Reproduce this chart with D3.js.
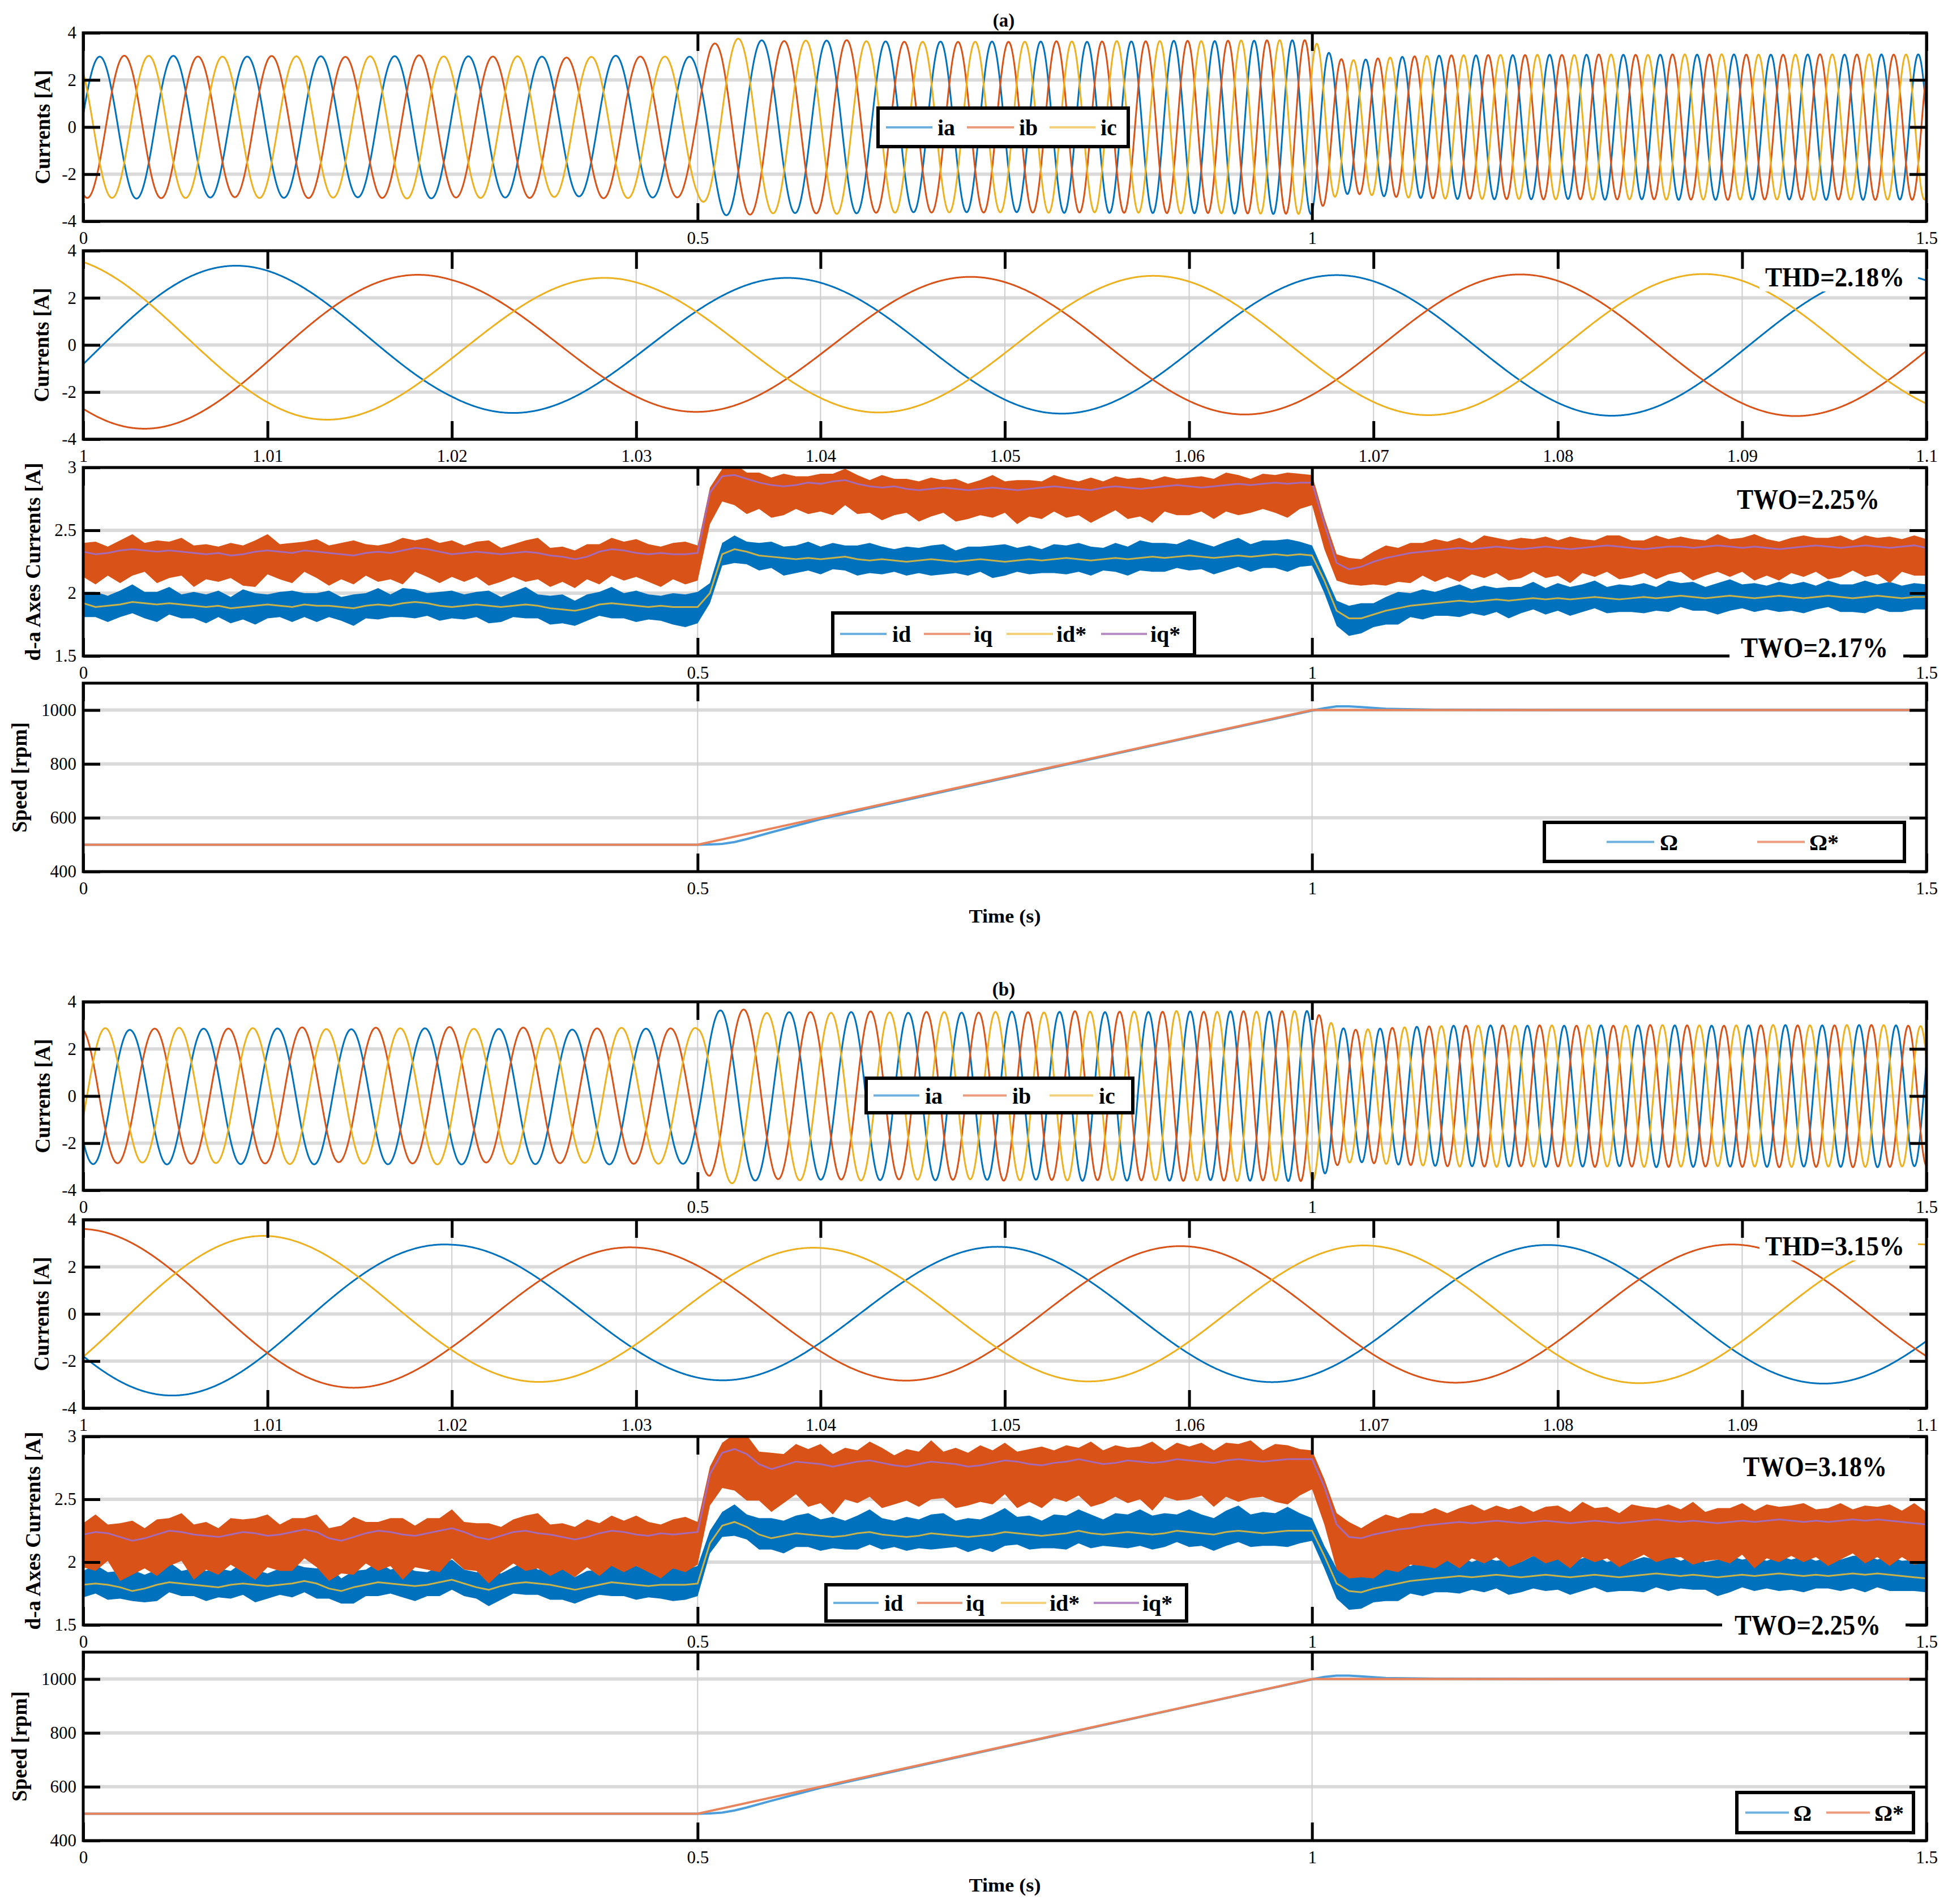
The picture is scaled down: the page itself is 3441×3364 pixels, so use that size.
<!DOCTYPE html>
<html>
<head>
<meta charset="utf-8">
<script src="https://cdn.jsdelivr.net/npm/d3@7"></script>
<style>
  body { margin: 0; background: #fff; }
  text { font-family: "Liberation Serif", "Times New Roman", serif; }
</style>
</head>
<body>
<svg id="chart"></svg>
<script>
// ---- ticks and labels
const timeTicks = [0, 0.5, 1, 1.5];
const zoomTicks = [1, 1.01, 1.02, 1.03, 1.04, 1.05, 1.06, 1.07, 1.08, 1.09, 1.1];
const currentTicks = [-4, -2, 0, 2, 4];
const dqTicks = [1.5, 2, 2.5, 3];
const speedTicks = [400, 600, 800, 1000];
const abcNames = ['ia', 'ib', 'ic'];
const dqNames = ['id', 'iq', 'id*', 'iq*'];
const speedNames = ['Ω', 'Ω*'];
const caseTitles = ['(a)', '(b)'];
const thdLabels = ['THD=2.18%', 'THD=3.15%'];
const twoIqLabels = ['TWO=2.25%', 'TWO=3.18%'];
const twoIdLabels = ['TWO=2.17%', 'TWO=2.25%'];

// ---- machine / phase readings
const polePairs = 2;
const phaseAt0 = [-1.4, 2.3];   // angle of ia at t = 0 s (full-range panel)
const phaseAt1 = [4.49, 2.09];  // angle of ia at t = 1 s (zoom panel)

// ---- speed [rpm]
const speedRefTime = [0, 0.5, 1, 1.5];
const speedRef = [500, 500, 1000, 1000];
const speedTime = [0, 0.5, 0.51, 0.52, 0.53, 0.54, 0.56, 0.6, 0.7, 0.9, 1.0, 1.01, 1.02, 1.03, 1.04, 1.06, 1.1, 1.2, 1.5];
const speedMeasA = [500, 500, 501, 503, 510, 521, 546, 595, 697, 898, 998, 1007, 1014, 1014, 1011, 1005, 1001, 1000, 1000];
const speedMeasB = [500, 500, 501, 504, 512, 523, 548, 596, 698, 899, 999, 1008, 1013, 1013, 1010, 1004, 1001, 1000, 1000];

// ---- d-q currents [A], one value every 10 ms from 0 to 1.5 s
const dqTime = d3.range(151).map(i => i / 100);

const iqRefA = [
  2.33,2.31,2.32,2.34,2.35,2.34,2.33,2.34,2.33,2.32,
  2.31,2.32,2.30,2.31,2.33,2.34,2.33,2.32,2.34,2.33,
  2.32,2.31,2.30,2.32,2.33,2.32,2.34,2.36,2.35,2.33,
  2.31,2.32,2.33,2.32,2.31,2.32,2.33,2.32,2.30,2.29,
  2.27,2.29,2.33,2.35,2.34,2.32,2.31,2.32,2.31,2.31,
  2.32,2.80,2.93,2.94,2.91,2.88,2.86,2.85,2.86,2.88,
  2.87,2.89,2.90,2.87,2.85,2.84,2.85,2.83,2.82,2.83,
  2.84,2.83,2.82,2.83,2.84,2.83,2.82,2.83,2.84,2.85,
  2.84,2.83,2.82,2.84,2.85,2.84,2.83,2.84,2.85,2.86,
  2.85,2.84,2.85,2.86,2.87,2.86,2.87,2.88,2.87,2.88,
  2.88,2.55,2.24,2.19,2.21,2.25,2.28,2.30,2.32,2.33,
  2.34,2.35,2.36,2.35,2.36,2.37,2.36,2.35,2.36,2.37,
  2.36,2.35,2.36,2.37,2.38,2.37,2.36,2.35,2.36,2.37,
  2.37,2.36,2.37,2.38,2.37,2.36,2.37,2.36,2.35,2.36,
  2.37,2.38,2.37,2.36,2.37,2.38,2.37,2.36,2.37,2.38,
  2.36];
const idRefA = [
  1.92,1.89,1.90,1.91,1.93,1.92,1.91,1.92,1.91,1.90,
  1.89,1.90,1.88,1.89,1.90,1.91,1.90,1.89,1.91,1.90,
  1.90,1.89,1.88,1.90,1.91,1.90,1.92,1.93,1.92,1.90,
  1.89,1.90,1.91,1.90,1.89,1.90,1.91,1.90,1.88,1.87,
  1.86,1.88,1.91,1.92,1.91,1.90,1.89,1.90,1.89,1.89,
  1.89,2.00,2.31,2.35,2.33,2.30,2.29,2.28,2.27,2.28,
  2.27,2.28,2.29,2.27,2.26,2.27,2.26,2.25,2.26,2.27,
  2.26,2.25,2.26,2.27,2.26,2.25,2.26,2.27,2.26,2.27,
  2.28,2.27,2.26,2.27,2.28,2.27,2.28,2.29,2.28,2.29,
  2.30,2.29,2.28,2.29,2.30,2.29,2.30,2.31,2.30,2.31,
  2.30,2.10,1.86,1.80,1.80,1.83,1.86,1.88,1.90,1.91,
  1.92,1.93,1.94,1.93,1.94,1.95,1.94,1.95,1.96,1.95,
  1.96,1.95,1.96,1.97,1.96,1.95,1.96,1.97,1.96,1.97,
  1.98,1.97,1.96,1.97,1.98,1.97,1.96,1.97,1.98,1.97,
  1.96,1.97,1.98,1.97,1.96,1.97,1.98,1.97,1.96,1.97,
  1.97];
// spread of the measured signal above / below its reference
const iqUpA = [
  .07,.10,.05,.08,.12,.06,.09,.07,.11,.06, .08,.05,.10,.07,.09,.13,.06,.08,.07,.10,
  .06,.09,.12,.07,.05,.08,.10,.06,.09,.07, .11,.06,.08,.10,.05,.07,.09,.12,.06,.08,
  .07,.10,.06,.09,.07,.11,.08,.05,.09,.10, .06,.04,.06,.09,.05,.08,.06,.10,.07,.05,
  .08,.06,.09,.07,.05,.10,.06,.08,.07,.09, .06,.08,.05,.07,.10,.06,.08,.07,.05,.09,
  .07,.06,.10,.05,.08,.07,.09,.06,.08,.05, .07,.09,.06,.10,.07,.05,.08,.06,.09,.07,
  .06,.05,.07,.09,.06,.08,.10,.06,.08,.07, .09,.06,.08,.05,.10,.07,.06,.09,.07,.08,
  .06,.10,.07,.05,.08,.09,.06,.07,.10,.06, .08,.07,.05,.09,.06,.08,.10,.07,.06,.08,
  .09,.06,.07,.10,.05,.08,.07,.09,.06,.08, .07];
const iqDnA = [
  .20,.24,.18,.26,.21,.17,.25,.22,.19,.27, .20,.23,.18,.25,.28,.19,.22,.24,.17,.21,
  .26,.20,.23,.18,.24,.21,.27,.19,.22,.25, .18,.23,.20,.26,.22,.19,.24,.21,.25,.20,
  .23,.18,.26,.21,.24,.19,.22,.27,.20,.24, .22,.25,.20,.24,.28,.21,.26,.23,.19,.25,
  .22,.27,.20,.24,.21,.26,.23,.19,.25,.22, .20,.26,.23,.21,.24,.19,.27,.22,.25,.20,
  .24,.21,.26,.23,.19,.25,.22,.28,.20,.24, .23,.19,.26,.21,.25,.22,.20,.24,.27,.21,
  .18,.20,.14,.12,.15,.18,.22,.21,.24,.19, .25,.22,.27,.20,.24,.21,.26,.23,.19,.25,
  .22,.27,.20,.24,.21,.26,.23,.19,.25,.22, .20,.26,.23,.21,.24,.19,.27,.22,.25,.20,
  .24,.21,.26,.23,.19,.25,.22,.28,.20,.24, .22];
const idUpA = [
  .09,.12,.08,.11,.14,.09,.10,.13,.08,.11, .10,.12,.09,.14,.10,.08,.11,.13,.09,.10,
  .12,.08,.11,.10,.13,.09,.12,.10,.08,.11, .13,.09,.10,.12,.08,.11,.14,.09,.10,.12,
  .08,.11,.10,.13,.09,.12,.10,.08,.11,.10, .12,.08,.09,.11,.08,.10,.12,.09,.11,.13,
  .10,.12,.09,.11,.14,.10,.09,.12,.10,.11, .13,.09,.11,.10,.12,.14,.10,.11,.09,.12,
  .10,.13,.11,.09,.12,.10,.14,.11,.12,.10, .13,.11,.09,.12,.14,.10,.12,.11,.13,.10,
  .08,.06,.08,.10,.12,.09,.11,.13,.10,.12, .09,.11,.13,.10,.12,.09,.11,.10,.13,.09,
  .12,.10,.11,.13,.09,.12,.10,.11,.09,.13, .10,.12,.09,.11,.13,.10,.12,.09,.11,.10,
  .13,.09,.12,.10,.11,.13,.09,.12,.10,.11, .10];
const idDnA = [
  .11,.08,.13,.10,.09,.12,.14,.09,.11,.10, .13,.09,.12,.10,.15,.11,.09,.12,.10,.13,
  .09,.11,.14,.10,.12,.09,.11,.13,.10,.12, .09,.11,.10,.14,.12,.09,.11,.10,.13,.11,
  .12,.10,.09,.12,.11,.13,.10,.12,.14,.16, .13,.08,.09,.11,.10,.12,.09,.14,.11,.10,
  .12,.09,.11,.13,.10,.12,.09,.11,.10,.13, .11,.09,.12,.10,.14,.11,.09,.12,.10,.11,
  .13,.10,.12,.09,.11,.13,.10,.12,.11,.09, .12,.10,.13,.11,.09,.12,.10,.11,.13,.10,
  .08,.10,.12,.14,.12,.10,.11,.13,.09,.12, .10,.11,.13,.09,.12,.10,.14,.11,.09,.12,
  .10,.13,.11,.09,.12,.10,.11,.13,.10,.12, .09,.11,.10,.14,.12,.09,.11,.10,.13,.11,
  .12,.10,.09,.12,.11,.13,.10,.12,.11,.10, .10];

const iqRefB = [
  2.22,2.24,2.23,2.20,2.17,2.19,2.22,2.25,2.24,2.22,
  2.21,2.20,2.22,2.24,2.23,2.21,2.22,2.24,2.26,2.24,
  2.19,2.17,2.20,2.23,2.25,2.24,2.22,2.21,2.23,2.25,
  2.27,2.24,2.20,2.18,2.21,2.24,2.25,2.23,2.22,2.20,
  2.18,2.20,2.23,2.25,2.24,2.22,2.21,2.23,2.22,2.23,
  2.24,2.70,2.87,2.90,2.86,2.78,2.74,2.77,2.80,2.79,
  2.78,2.76,2.78,2.80,2.81,2.79,2.77,2.76,2.78,2.80,
  2.79,2.78,2.76,2.77,2.79,2.81,2.80,2.78,2.77,2.79,
  2.80,2.82,2.80,2.78,2.79,2.81,2.80,2.79,2.80,2.82,
  2.81,2.80,2.79,2.81,2.82,2.81,2.80,2.81,2.82,2.82,
  2.82,2.60,2.30,2.20,2.19,2.22,2.24,2.26,2.27,2.29,
  2.30,2.31,2.32,2.31,2.32,2.33,2.32,2.31,2.32,2.33,
  2.32,2.31,2.32,2.33,2.32,2.31,2.32,2.33,2.34,2.33,
  2.32,2.33,2.32,2.31,2.32,2.33,2.32,2.33,2.34,2.33,
  2.32,2.33,2.32,2.33,2.34,2.33,2.34,2.33,2.32,2.31,
  2.30];
const idRefB = [
  1.82,1.83,1.82,1.80,1.77,1.79,1.82,1.84,1.83,1.82,
  1.81,1.80,1.82,1.83,1.82,1.81,1.82,1.83,1.85,1.83,
  1.79,1.77,1.80,1.82,1.84,1.83,1.82,1.81,1.82,1.84,
  1.86,1.83,1.80,1.78,1.81,1.83,1.84,1.83,1.82,1.80,
  1.78,1.80,1.82,1.84,1.83,1.82,1.81,1.82,1.82,1.82,
  1.83,2.15,2.29,2.32,2.28,2.22,2.19,2.21,2.23,2.22,
  2.21,2.20,2.21,2.23,2.24,2.22,2.21,2.20,2.21,2.23,
  2.22,2.21,2.20,2.21,2.22,2.24,2.23,2.22,2.21,2.22,
  2.23,2.25,2.23,2.22,2.23,2.24,2.23,2.22,2.23,2.25,
  2.24,2.23,2.22,2.24,2.25,2.24,2.23,2.24,2.25,2.25,
  2.25,2.05,1.83,1.77,1.76,1.79,1.81,1.83,1.85,1.86,
  1.87,1.88,1.89,1.88,1.89,1.90,1.89,1.88,1.89,1.90,
  1.89,1.88,1.89,1.90,1.89,1.88,1.89,1.90,1.91,1.90,
  1.89,1.90,1.89,1.88,1.89,1.90,1.89,1.90,1.91,1.90,
  1.89,1.90,1.89,1.90,1.91,1.90,1.91,1.90,1.89,1.88,
  1.87];
const iqUpB = [
  .09,.14,.07,.11,.16,.08,.12,.10,.15,.08, .11,.07,.13,.10,.12,.17,.08,.11,.09,.14,
  .08,.12,.16,.09,.07,.11,.13,.08,.12,.10, .15,.08,.11,.13,.07,.10,.12,.16,.08,.11,
  .10,.14,.08,.12,.09,.15,.11,.07,.12,.13, .08,.06,.08,.12,.15,.10,.13,.09,.14,.11,
  .16,.10,.13,.09,.15,.12,.08,.14,.10,.17, .09,.13,.11,.16,.10,.14,.08,.12,.15,.10,
  .13,.09,.16,.11,.14,.10,.12,.17,.09,.13, .11,.15,.10,.14,.12,.16,.09,.13,.11,.08,
  .07,.06,.09,.12,.08,.11,.14,.09,.12,.10, .13,.08,.11,.15,.09,.12,.10,.14,.08,.11,
  .13,.09,.16,.10,.12,.08,.14,.11,.09,.13, .10,.15,.08,.12,.11,.14,.09,.13,.10,.12,
  .15,.09,.11,.14,.08,.12,.10,.13,.09,.16, .10];
const iqDnB = [
  .26,.31,.22,.35,.27,.24,.33,.28,.23,.36, .27,.30,.24,.32,.37,.25,.29,.31,.23,.28,
  .34,.26,.30,.24,.32,.27,.36,.25,.29,.33, .24,.30,.27,.35,.29,.25,.32,.28,.33,.26,
  .30,.24,.34,.28,.32,.25,.29,.36,.27,.31, .26,.25,.28,.33,.37,.29,.34,.30,.26,.35,
  .31,.38,.28,.33,.29,.36,.31,.27,.34,.30, .28,.35,.31,.29,.33,.27,.37,.30,.34,.28,
  .32,.29,.36,.31,.27,.34,.30,.38,.28,.33, .31,.27,.35,.29,.34,.30,.28,.33,.36,.29,
  .24,.30,.36,.33,.31,.35,.30,.34,.29,.32, .35,.30,.37,.28,.33,.29,.36,.31,.27,.34,
  .30,.36,.28,.33,.29,.35,.31,.27,.34,.30, .28,.35,.31,.29,.33,.27,.37,.30,.34,.28,
  .32,.29,.35,.31,.27,.34,.30,.36,.28,.33, .30];
const idUpB = [
  .11,.15,.10,.13,.17,.11,.12,.16,.10,.13, .12,.15,.11,.17,.12,.10,.13,.16,.11,.12,
  .18,.10,.13,.12,.16,.11,.15,.12,.10,.13, .16,.11,.12,.15,.10,.13,.17,.11,.12,.15,
  .10,.13,.12,.16,.11,.15,.12,.10,.13,.12, .14,.10,.11,.14,.10,.13,.16,.12,.14,.17,
  .13,.16,.12,.14,.18,.13,.12,.16,.13,.15, .17,.12,.15,.13,.16,.19,.13,.15,.12,.16,
  .14,.17,.15,.12,.16,.14,.19,.15,.16,.13, .18,.15,.13,.17,.20,.14,.17,.15,.19,.14,
  .10,.08,.12,.15,.13,.11,.14,.16,.12,.15, .11,.14,.16,.12,.15,.11,.14,.12,.16,.11,
  .15,.12,.14,.16,.11,.15,.12,.14,.11,.16, .12,.15,.11,.14,.16,.12,.15,.11,.14,.12,
  .16,.11,.15,.12,.14,.16,.11,.15,.12,.14, .12];
const idDnB = [
  .10,.08,.12,.09,.08,.11,.13,.08,.10,.09, .12,.08,.11,.09,.14,.10,.08,.11,.09,.12,
  .08,.10,.13,.09,.11,.08,.10,.12,.09,.11, .08,.10,.09,.13,.11,.08,.10,.09,.12,.10,
  .11,.09,.08,.11,.10,.12,.09,.11,.13,.12, .10,.08,.09,.11,.10,.12,.09,.14,.11,.10,
  .12,.09,.11,.13,.10,.12,.09,.11,.10,.13, .11,.09,.12,.10,.14,.11,.09,.12,.10,.11,
  .13,.10,.12,.09,.11,.13,.10,.12,.11,.09, .12,.10,.13,.11,.09,.12,.10,.11,.13,.10,
  .08,.10,.12,.15,.13,.11,.12,.14,.10,.13, .11,.12,.14,.10,.13,.11,.15,.12,.10,.13,
  .11,.14,.12,.10,.13,.11,.12,.14,.11,.13, .10,.12,.11,.15,.13,.10,.12,.11,.14,.12,
  .13,.11,.10,.13,.12,.14,.11,.13,.12,.11, .11];

// ---- layout
const W = 3441, H = 3364;
const L = 147, R = 3403, PH = 333;
const panelTops = [58, 443, 826, 1207];
const caseOffset = [0, 1712];
const col = { blue: '#0072BD', orange: '#D95319', yellow: '#EDB120', purple: '#7E2F8E' };
const pale = { blue: '#6eb0de', orange: '#ec9b7c', yellow: '#f3d07c', purple: '#b98ec6' };

const svg = d3.select('#chart').attr('width', W).attr('height', H)
  .style('background', '#fff');
let clipCount = 0;

function makePanel(top, xDom, xTicks, yDom, yTicks, yLabel, yLabelLen, yLabelX) {
  const x = d3.scaleLinear().domain(xDom).range([L, R]);
  const y = d3.scaleLinear().domain(yDom).range([top + PH, top]);
  const g = svg.append('g');
  const cid = 'clip' + (clipCount++);
  svg.append('clipPath').attr('id', cid).append('rect')
    .attr('x', L).attr('y', top).attr('width', R - L).attr('height', PH);

  g.append('g').selectAll('line').data(yTicks).join('line')
    .attr('x1', L).attr('x2', R).attr('y1', d => y(d)).attr('y2', d => y(d))
    .attr('stroke', '#dadada').attr('stroke-width', 6);
  g.append('g').selectAll('line').data(xTicks).join('line')
    .attr('x1', d => x(d)).attr('x2', d => x(d)).attr('y1', top).attr('y2', top + PH)
    .attr('stroke', '#cdcdcd').attr('stroke-width', 2);

  const plot = g.append('g').attr('clip-path', `url(#${cid})`);
  const front = g.append('g');

  const styleAxis = (sel, sw) => {
    sel.select('.domain').remove();
    sel.selectAll('line').attr('stroke', '#000').attr('stroke-width', sw);
    sel.selectAll('text').attr('font-size', 31).attr('font-family', '"Liberation Serif", serif');
  };
  front.append('g').attr('transform', `translate(${L},0)`)
    .call(d3.axisLeft(y).tickValues(yTicks).tickSize(-30).tickPadding(12).tickFormat(d => String(d)))
    .call(styleAxis, 5);
  front.append('g').attr('transform', `translate(${R},0)`)
    .call(d3.axisRight(y).tickValues(yTicks).tickSize(-30).tickFormat(''))
    .call(styleAxis, 5);
  front.append('g').attr('transform', `translate(0,${top + PH})`)
    .call(d3.axisBottom(x).tickValues(xTicks).tickSize(-32).tickPadding(18).tickFormat(d => String(d)))
    .call(styleAxis, 5);
  front.append('g').attr('transform', `translate(0,${top})`)
    .call(d3.axisTop(x).tickValues(xTicks).tickSize(-32).tickFormat(''))
    .call(styleAxis, 5);
  front.append('rect').attr('x', L).attr('y', top).attr('width', R - L).attr('height', PH)
    .attr('fill', 'none').attr('stroke', '#000').attr('stroke-width', 5);

  svg.append('text')
    .attr('transform', `translate(${yLabelX},${top + PH / 2}) rotate(-90)`)
    .attr('text-anchor', 'middle').attr('dominant-baseline', 'central')
    .attr('font-weight', 'bold').attr('font-size', 38)
    .attr('textLength', yLabelLen).attr('lengthAdjust', 'spacingAndGlyphs')
    .text(yLabel);
  return { x, y, plot, top };
}

function legend(box, entries, fontSize) {
  const g = svg.append('g');
  g.append('rect').attr('x', box[0]).attr('y', box[1])
    .attr('width', box[2] - box[0]).attr('height', box[3] - box[1])
    .attr('fill', '#fff').attr('stroke', '#000').attr('stroke-width', 6);
  const cy = (box[1] + box[3]) / 2;
  entries.forEach(e => {
    g.append('line').attr('x1', e.x1).attr('x2', e.x2).attr('y1', cy).attr('y2', cy)
      .attr('stroke', e.color).attr('stroke-width', 4);
    g.append('text').attr('x', e.tx).attr('y', cy).attr('dy', '0.36em')
      .attr('font-weight', 'bold').attr('font-size', fontSize).text(e.label);
  });
}

function note(text, x0, x1, baseline, size, bg) {
  if (bg) {
    svg.append('rect').attr('x', bg[0]).attr('y', bg[1])
      .attr('width', bg[2] - bg[0]).attr('height', bg[3] - bg[1]).attr('fill', '#fff');
  }
  svg.append('text').attr('x', x0).attr('y', baseline)
    .attr('font-weight', 'bold').attr('font-size', size)
    .attr('textLength', x1 - x0).attr('lengthAdjust', 'spacingAndGlyphs')
    .text(text);
}

// three-phase currents rebuilt from the speed profile and the d-q magnitudes
function abcSeries(speedS, idS, iqS, theta0, t0, t1, dt) {
  const n = Math.round((t1 - t0) / dt);
  const out = [[], [], []];
  let th = theta0;
  for (let k = 0; k <= n; k++) {
    const t = t0 + k * dt;
    const a = Math.hypot(idS(t), iqS(t));
    out[0].push([t, a * Math.cos(th)]);
    out[1].push([t, a * Math.cos(th - 2 * Math.PI / 3)]);
    out[2].push([t, a * Math.cos(th + 2 * Math.PI / 3)]);
    th += polePairs * speedS(t + dt / 2) * 2 * Math.PI / 60 * dt;
  }
  return out;
}

const cases = [
  { iqRef: iqRefA, idRef: idRefA, iqUp: iqUpA, iqDn: iqDnA, idUp: idUpA, idDn: idDnA, speed: speedMeasA },
  { iqRef: iqRefB, idRef: idRefB, iqUp: iqUpB, iqDn: iqDnB, idUp: idUpB, idDn: idDnB, speed: speedMeasB }
];

const legendBoxes = [
  {
    abc: [1551, 191, 1993, 259], abcE: [[1565, 1647, 1656], [1708, 1791, 1800], [1854, 1935, 1944]],
    dq: [1471, 1083, 2110, 1157], dqE: [[1484, 1566, 1576], [1632, 1714, 1720], [1778, 1860, 1866], [1945, 2026, 2032]],
    sp: [2728, 1453, 3364, 1522], spE: [[2838, 2922, 2932], [3104, 3188, 3196]]
  },
  {
    abc: [1530, 1905, 2001, 1966], abcE: [[1543, 1624, 1634], [1701, 1778, 1788], [1854, 1931, 1941]],
    dq: [1459, 2800, 2096, 2864], dqE: [[1472, 1552, 1562], [1620, 1700, 1706], [1768, 1848, 1854], [1932, 2012, 2018]],
    sp: [3068, 3167, 3380, 3238], spE: [[3083, 3160, 3168], [3226, 3303, 3311]]
  }
];

cases.forEach((c, ci) => {
  const off = caseOffset[ci];
  const rows = dqTime.map((t, i) => ({
    t, idRef: c.idRef[i], iqRef: c.iqRef[i],
    idHi: c.idRef[i] + c.idUp[i], idLo: c.idRef[i] - c.idDn[i],
    iqHi: c.iqRef[i] + c.iqUp[i], iqLo: c.iqRef[i] - c.iqDn[i]
  }));
  const speedS = d3.scaleLinear().domain(speedTime).range(c.speed).clamp(true);
  const idS = d3.scaleLinear().domain(dqTime).range(c.idRef).clamp(true);
  const iqS = d3.scaleLinear().domain(dqTime).range(c.iqRef).clamp(true);
  const abcColors = [col.blue, col.orange, col.yellow];

  svg.append('text').attr('x', 1773).attr('y', 47 + off).attr('text-anchor', 'middle')
    .attr('font-weight', 'bold').attr('font-size', 33).text(caseTitles[ci]);

  // panel 1: full-range phase currents
  const p1 = makePanel(panelTops[0] + off, [0, 1.5], timeTicks, [-4, 4], currentTicks, 'Currents [A]', 202, 75);
  const abcFull = abcSeries(speedS, idS, iqS, phaseAt0[ci], 0, 1.5, 0.0004);
  const line1 = d3.line().x(d => p1.x(d[0])).y(d => p1.y(d[1]));
  abcFull.forEach((s, k) => p1.plot.append('path').attr('d', line1(s))
    .attr('fill', 'none').attr('stroke', abcColors[k]).attr('stroke-width', 3));

  // panel 2: zoom 1.0 - 1.1 s
  const p2 = makePanel(panelTops[1] + off, [1, 1.1], zoomTicks, [-4, 4], currentTicks, 'Currents [A]', 202, 73);
  const abcZoom = abcSeries(speedS, idS, iqS, phaseAt1[ci], 1, 1.1, 0.00005);
  const line2 = d3.line().x(d => p2.x(d[0])).y(d => p2.y(d[1]));
  abcZoom.forEach((s, k) => p2.plot.append('path').attr('d', line2(s))
    .attr('fill', 'none').attr('stroke', abcColors[k]).attr('stroke-width', 3));

  // panel 3: d-q currents
  const p3 = makePanel(panelTops[2] + off, [0, 1.5], timeTicks, [1.5, 3], dqTicks, 'd-a Axes Currents [A]', 350, 58);
  const band = (lo, hi) => d3.area().x(d => p3.x(d.t)).y0(d => p3.y(d[lo])).y1(d => p3.y(d[hi]));
  p3.plot.append('path').attr('d', band('idLo', 'idHi')(rows)).attr('fill', col.blue);
  p3.plot.append('path').attr('d', band('iqLo', 'iqHi')(rows)).attr('fill', col.orange);
  p3.plot.append('path').attr('d', d3.line().x(d => p3.x(d.t)).y(d => p3.y(d.idRef))(rows))
    .attr('fill', 'none').attr('stroke', '#c9b24a').attr('stroke-width', 3);
  p3.plot.append('path').attr('d', d3.line().x(d => p3.x(d.t)).y(d => p3.y(d.iqRef))(rows))
    .attr('fill', 'none').attr('stroke', '#a66bb8').attr('stroke-width', 3);

  // panel 4: speed
  const p4 = makePanel(panelTops[3] + off, [0, 1.5], timeTicks, [400, 1100], speedTicks, 'Speed [rpm]', 195, 34);
  const sLine = d3.line().x(d => p4.x(d[0])).y(d => p4.y(d[1]));
  p4.plot.append('path').attr('d', sLine(speedTime.map((t, i) => [t, c.speed[i]])))
    .attr('fill', 'none').attr('stroke', '#4b9ddb').attr('stroke-width', 4);
  p4.plot.append('path').attr('d', sLine(speedRefTime.map((t, i) => [t, speedRef[i]])))
    .attr('fill', 'none').attr('stroke', '#e8835c').attr('stroke-width', 4);

  svg.append('text').attr('x', 1775).attr('y', p4.top + PH + 90).attr('text-anchor', 'middle')
    .attr('font-weight', 'bold').attr('font-size', 34)
    .attr('textLength', 127).attr('lengthAdjust', 'spacingAndGlyphs').text('Time (s)');

  // legends
  const lb = legendBoxes[ci];
  const abcPale = [pale.blue, pale.orange, pale.yellow];
  legend(lb.abc, lb.abcE.map((e, k) => ({ x1: e[0], x2: e[1], tx: e[2], color: abcPale[k], label: abcNames[k] })), 40);
  const dqPale = [pale.blue, pale.orange, pale.yellow, pale.purple];
  legend(lb.dq, lb.dqE.map((e, k) => ({ x1: e[0], x2: e[1], tx: e[2], color: dqPale[k], label: dqNames[k] })), 40);
  const spPale = [pale.blue, pale.orange];
  legend(lb.sp, lb.spE.map((e, k) => ({ x1: e[0], x2: e[1], tx: e[2], color: spPale[k], label: speedNames[k] })), 40);

  // annotations
  const t2 = p2.top, t3 = p3.top;
  note(thdLabels[ci], 3118, 3364, t2 + 63, 48, [3108, t2 + 18, 3388, t2 + 72]);
  if (ci === 0) {
    note(twoIqLabels[ci], 3068, 3320, t3 + 73, 50);
    note(twoIdLabels[ci], 3075, 3335, t3 + PH + 2, 50, [3055, t3 + PH - 40, 3362, t3 + PH + 12]);
  } else {
    note(twoIqLabels[ci], 3079, 3333, t3 + 70, 50);
    note(twoIdLabels[ci], 3064, 3322, t3 + PH + 17, 50, [3042, t3 + PH - 28, 3366, t3 + PH + 26]);
  }
});
</script>
</body>
</html>
